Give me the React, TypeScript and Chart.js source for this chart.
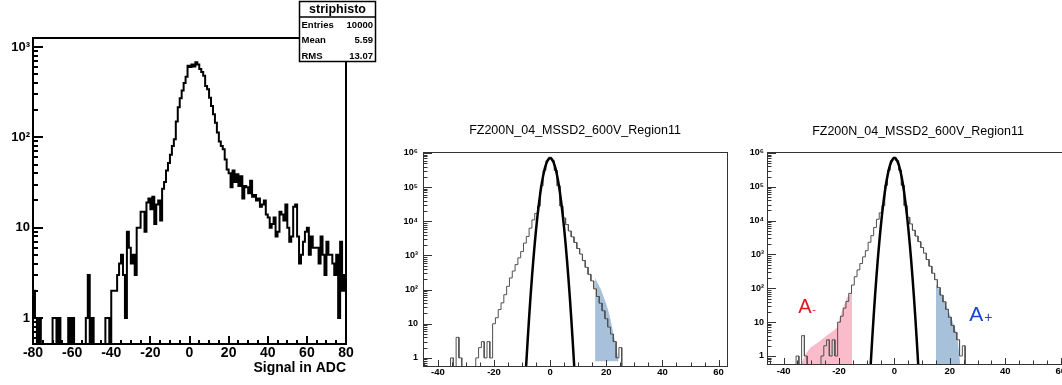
import React, { useEffect, useRef } from 'react';
import { Chart, registerables } from 'chart.js';

Chart.register(...registerables);

const FONT = "'Liberation Sans', Arial, Helvetica, sans-serif";

// ---------------- Panel 1 : striphisto ----------------
const p1BinLow = -80;
const p1BinWidth = 1;
const p1Counts = [
  2, 1, 0, 1, 0, 0, 0, 0, 0, 0, // -80..-71
  1, 1, 0, 1, 0, 0, 0, 0, 1, 0, // -70..-61
  1, 0, 0, 0, 0, 0, 0, 1, 3, 0, // -60..-51
  1, 0, 0, 0, 0, 0, 0, 1, 1, 0, // -50..-41
  2, 2, 2, 3, 4, 5, 3, 1, 9, 6, // -40..-31
  4, 5, 3, 10, 10, 15, 15, 9, 19, 21, // -30..-21
  16, 22, 11, 18, 20, 12, 27, 32, 43, 52, // -20..-11
  64, 80, 95, 150, 215, 270, 330, 400, 470, 620, // -10..-1
  600, 640, 610, 680, 640, 570, 530, 480, 370, 340, // 0..9
  275, 222, 180, 145, 113, 90, 80, 74, 57, 44, // 10..19
  40, 28, 43, 32, 39, 29, 37, 21, 29, 28, // 20..29
  24, 33, 22, 23, 20, 21, 17, 18, 20, 14, // 30..39
  13, 10, 11, 13, 8, 9, 15, 14, 12, 18, // 40..49
  10, 7, 8, 17, 18, 8, 4, 5, 7, 9, // 50..59
  10, 5, 8, 6, 6, 6, 4, 8, 5, 3, // 60..69
  7, 5, 5, 4, 3, 5, 1, 7, 2, 3, // 70..79
];
const p1XTicks = [-80, -60, -40, -20, 0, 20, 40, 60, 80];
const p1YTicks = [1, 10, 100, 1000];
const p1YLabels = ['1', '10', '10²', '10³'];
const p1XTitle = 'Signal in ADC';
const p1StatTitle = 'striphisto';
const p1StatNames = ['Entries', 'Mean', 'RMS'];
const p1StatValues = ['10000', '5.59', '13.07'];

// ---------------- Panels 2 & 3 : FZ200N ----------------
const fzTitle = 'FZ200N_04_MSSD2_600V_Region11';
const fzFirstBinCenter = -36;
const fzBinWidth = 1;
const fzCounts = [
  0, 1, 0, 4, 1, 0, 0, 0, 0, 0, // -36..-27
  1, 2, 3, 1, 3, 1, 10, 15, 26, 41, // -26..-17
  71, 125, 220, 350, 540, 850, 1300, 2300, 3600, 6300, // -16..-7
  11000, 17000, 28000, 110000, 310000, 590000, 750000, 590000, 310000, 110000, // -6..3
  28000, 12500, 8000, 5200, 3500, 2400, 1600, 1100, 710, 450, // 4..13
  280, 180, 105, 63, 40, 24, 14, 8, 5, 3, // 14..23
  1, 2, 0, // 24..26
];
const gaussX = [-9, -8.5, -8, -7.5, -7, -6.5, -6, -5.5, -5, -4.5, -4, -3.5, -3, -2.5, -2, -1.5, -1, -0.5, 0,
  0.5, 1, 1.5, 2, 2.5, 3, 3.5, 4, 4.5, 5, 5.5, 6, 6.5, 7, 7.5, 8, 8.5, 9];
const gaussY = [0.13, 0.71, 3.45, 15.2, 61, 220, 728, 2180, 5960, 14800, 33000, 68000, 127000, 214000, 330000, 460000, 585000, 675000, 708000,
  675000, 585000, 460000, 330000, 214000, 127000, 68000, 33000, 14800, 5960, 2180, 728, 220, 61, 15.2, 3.45, 0.71, 0.13];
const p2BlueX = [16, 17, 18, 19, 20, 21, 22, 23, 24, 24.4];
const p2BlueY = [219, 150, 105, 63, 38, 20, 8.5, 3.4, 1.3, 0.8];
const p3BlueX = [15, 16, 17, 18, 19, 20, 21, 22, 23, 23.5, 23.8];
const p3BlueY = [130, 95, 62, 42, 27, 17, 10.5, 6, 2.3, 0.9, 0.5];
const p3PinkX = [-33.7, -32.2, -30.4, -28, -26, -24, -22, -20.8, -19, -17.2, -15.3];
const p3PinkY = [0.55, 1.1, 1.75, 2.4, 3.2, 4.3, 5.6, 6.8, 21, 52, 81];
const fzXTicks = [-40, -20, 0, 20, 40, 60];
const fzYTicks = [1, 10, 100, 1000, 10000, 100000, 1000000];
const fzYLabels = ['1', '10', '10²', '10³', '10⁴', '10⁵', '10⁶'];
const aMinusText = ['A', '-'];
const aPlusText = ['A', '+'];

const FLOOR = 1e-3;

function stepPoints(low: number, width: number, counts: number[]) {
  const pts: { x: number; y: number }[] = [{ x: low, y: FLOOR }];
  counts.forEach((c, i) => {
    const y = c > 0 ? c : FLOOR;
    pts.push({ x: low + i * width, y }, { x: low + (i + 1) * width, y });
  });
  pts.push({ x: low + counts.length * width, y: FLOOR });
  return pts;
}
const zip = (xs: number[], ys: number[]) => xs.map((x, i) => ({ x, y: ys[i] }));

type AxisStyle = {
  xMinorStep: number; xMajor: number[]; xMajorLen: number; xMinorLen: number;
  yMajorLen: number; yMinorLen: number; lineWidth: number; color: string; frameWidth: number;
};

function rootPlugin(id: string, st: AxisStyle, extra?: (chart: any) => void) {
  return {
    id,
    afterDatasetsDraw(chart: any) {
      const { ctx, chartArea: a } = chart;
      const x = chart.scales.x;
      const y = chart.scales.y;
      const off = st.lineWidth % 2 === 1 ? 0.5 : 0;
      ctx.save();
      ctx.strokeStyle = st.color;
      ctx.lineWidth = st.lineWidth;
      ctx.beginPath();
      const start = Math.ceil(x.min / st.xMinorStep) * st.xMinorStep;
      for (let v = start; v <= x.max + 1e-9; v += st.xMinorStep) {
        const px = Math.round(x.getPixelForValue(v)) + off;
        const len = st.xMajor.includes(v) ? st.xMajorLen : st.xMinorLen;
        ctx.moveTo(px, a.bottom);
        ctx.lineTo(px, a.bottom - len);
      }
      const d0 = Math.floor(Math.log10(y.min));
      const d1 = Math.ceil(Math.log10(y.max));
      for (let d = d0; d <= d1; d++) {
        for (let m = 1; m <= 9; m++) {
          const v = m * Math.pow(10, d);
          if (v < y.min || v > y.max) continue;
          const py = Math.round(y.getPixelForValue(v)) + off;
          ctx.moveTo(a.left, py);
          ctx.lineTo(a.left + (m === 1 ? st.yMajorLen : st.yMinorLen), py);
        }
      }
      ctx.stroke();
      ctx.lineWidth = st.frameWidth;
      const fo = st.frameWidth % 2 === 1 ? 0.5 : 0;
      ctx.strokeRect(a.left + fo, a.top + fo, a.right - a.left, a.bottom - a.top);
      ctx.restore();
      if (extra) extra(chart);
    },
  };
}

function xScale(min: number, max: number, ticks: number[], height: number, size: number, padding: number, title?: any) {
  return {
    type: 'linear',
    min,
    max,
    grid: { display: false, drawTicks: false },
    border: { display: false },
    afterBuildTicks: (s: any) => { s.ticks = ticks.map((v) => ({ value: v })); },
    afterFit: (s: any) => { s.height = height; },
    ticks: {
      autoSkip: false, maxRotation: 0, minRotation: 0, padding, color: '#000',
      font: { family: FONT, size, weight: 'bold' },
      callback: (v: number) => String(v),
    },
    title: title || { display: false },
  };
}

function yScale(min: number, max: number, ticks: number[], labels: string[], width: number, size: number, padding: number) {
  return {
    type: 'logarithmic',
    min,
    max,
    grid: { display: false, drawTicks: false },
    border: { display: false },
    afterBuildTicks: (s: any) => { s.ticks = ticks.map((v) => ({ value: v })); },
    afterFit: (s: any) => { s.width = width; },
    ticks: {
      autoSkip: false, padding, color: '#000',
      font: { family: FONT, size, weight: 'bold' },
      callback: (_v: number, i: number) => labels[i],
    },
  };
}

const baseOptions = (padding: any, title?: any) => ({
  animation: false,
  responsive: false,
  events: [],
  layout: { padding },
  plugins: {
    legend: { display: false },
    tooltip: { enabled: false },
    title: title || { display: false },
  },
});

export default function App() {
  const r1 = useRef<HTMLCanvasElement>(null);
  const r2 = useRef<HTMLCanvasElement>(null);
  const r3 = useRef<HTMLCanvasElement>(null);

  useEffect(() => {
    const charts: Chart[] = [];

    // ---- Panel 1
    const statBox = (chart: any) => {
      const ctx = chart.ctx;
      ctx.save();
      ctx.fillStyle = '#fff';
      ctx.fillRect(299, 1, 77, 61);
      ctx.strokeStyle = '#000';
      ctx.lineWidth = 1.5;
      ctx.strokeRect(299.5, 1.5, 76, 60);
      ctx.beginPath();
      ctx.moveTo(299.5, 17);
      ctx.lineTo(375.5, 17);
      ctx.stroke();
      ctx.fillStyle = '#000';
      ctx.textBaseline = 'middle';
      ctx.textAlign = 'center';
      ctx.font = `bold 12.5px ${FONT}`;
      ctx.fillText(p1StatTitle, 337.5, 9.5);
      ctx.font = `bold 9.5px ${FONT}`;
      const rowsY = [25, 40.5, 56];
      p1StatNames.forEach((n, i) => {
        ctx.textAlign = 'left';
        ctx.fillText(n, 301.5, rowsY[i]);
        ctx.textAlign = 'right';
        ctx.fillText(p1StatValues[i], 373, rowsY[i]);
      });
      ctx.restore();
    };

    charts.push(new Chart(r1.current as HTMLCanvasElement, {
      type: 'line',
      data: {
        datasets: [{
          data: stepPoints(p1BinLow, p1BinWidth, p1Counts),
          borderColor: '#000', borderWidth: 2, pointRadius: 0, tension: 0, fill: false, clip: 0,
        }],
      },
      options: {
        ...baseOptions({ left: 0, top: 38, right: 32, bottom: 0 }),
        scales: {
          x: xScale(-80, 80, p1XTicks, 41, 14, 1, {
            display: true, text: p1XTitle, align: 'end', color: '#000',
            font: { family: FONT, size: 14, weight: 'bold' }, padding: { top: 0, bottom: 8 },
          }),
          y: yScale(0.5155, 1258, p1YTicks, p1YLabels, 33, 13, 3),
        },
      } as any,
      plugins: [rootPlugin('root1', {
        xMinorStep: 5, xMajor: p1XTicks, xMajorLen: 8, xMinorLen: 4,
        yMajorLen: 10, yMinorLen: 5, lineWidth: 2, color: '#000', frameWidth: 2,
      }, statBox)],
    } as any));

    // ---- Panels 2 & 3
    const fzSteps = stepPoints(fzFirstBinCenter - fzBinWidth / 2, fzBinWidth, fzCounts);
    const histDs = {
      data: fzSteps, borderColor: '#505050', borderWidth: 1, pointRadius: 0, tension: 0,
      fill: false, clip: 0, order: 1,
    };
    const gaussDs = {
      data: zip(gaussX, gaussY), borderColor: '#000', borderWidth: 2.5, pointRadius: 0,
      cubicInterpolationMode: 'monotone', fill: false, clip: 0, order: 0,
    };
    const fzStyle: AxisStyle = {
      xMinorStep: 5, xMajor: fzXTicks, xMajorLen: 6, xMinorLen: 3.5,
      yMajorLen: 9, yMinorLen: 4.5, lineWidth: 1, color: '#333', frameWidth: 1,
    };
    const BLUE = 'rgb(168,193,219)';
    const PINK = 'rgb(250,188,203)';

    charts.push(new Chart(r2.current as HTMLCanvasElement, {
      type: 'line',
      data: {
        datasets: [
          gaussDs,
          histDs,
          {
            data: zip(p2BlueX, p2BlueY), borderWidth: 0, borderColor: 'rgba(0,0,0,0)',
            backgroundColor: BLUE, pointRadius: 0, tension: 0, fill: { value: 0.8 }, clip: 0, order: 2,
          },
        ],
      },
      options: {
        ...baseOptions({ left: 0, top: 0, right: 8, bottom: 0 }, {
          display: true, text: fzTitle, fullSize: false, color: '#000',
          font: { family: FONT, size: 12.5, weight: 'normal' }, padding: { top: 13, bottom: 14 },
        }),
        scales: {
          x: xScale(-45.3, 63, fzXTicks, 19, 9.5, 1),
          y: yScale(0.58, 1.07e6, fzYTicks, fzYLabels, 43, 9, 5),
        },
      } as any,
      plugins: [rootPlugin('root2', fzStyle)],
    } as any));

    const aLabels = (chart: any) => {
      const { ctx } = chart;
      const x = chart.scales.x;
      const y = chart.scales.y;
      ctx.save();
      ctx.textAlign = 'left';
      ctx.textBaseline = 'alphabetic';
      const ax = x.getPixelForValue(-34.7);
      const ay = y.getPixelForValue(19);
      ctx.fillStyle = '#e4161e';
      ctx.font = `20px ${FONT}`;
      ctx.fillText(aMinusText[0], ax, ay);
      ctx.font = `11px ${FONT}`;
      ctx.fillText(aMinusText[1], ax + 14, ay);
      const bx = x.getPixelForValue(27);
      const by = y.getPixelForValue(11);
      ctx.fillStyle = '#1b46d1';
      ctx.font = `21px ${FONT}`;
      ctx.fillText(aPlusText[0], bx, by);
      ctx.font = `14px ${FONT}`;
      ctx.fillText(aPlusText[1], bx + 15, by + 1.5);
      ctx.restore();
    };

    charts.push(new Chart(r3.current as HTMLCanvasElement, {
      type: 'line',
      data: {
        datasets: [
          gaussDs,
          { ...histDs, data: fzSteps },
          {
            data: zip(p3BlueX, p3BlueY), borderWidth: 0, borderColor: 'rgba(0,0,0,0)',
            backgroundColor: BLUE, pointRadius: 0, tension: 0, fill: 'start', clip: 0, order: 2,
          },
          {
            data: zip(p3PinkX, p3PinkY), borderWidth: 0, borderColor: 'rgba(0,0,0,0)',
            backgroundColor: PINK, pointRadius: 0, tension: 0, fill: 'start', clip: 0, order: 2,
          },
        ],
      },
      options: {
        ...baseOptions({ left: 0, top: 0, right: 8, bottom: 0 }, {
          display: true, text: fzTitle, fullSize: false, color: '#000',
          font: { family: FONT, size: 12.5, weight: 'normal' }, padding: { top: 14, bottom: 13 },
        }),
        scales: {
          x: xScale(-46, 63, fzXTicks, 21, 9.5, 2),
          y: yScale(0.58, 1.07e6, fzYTicks, fzYLabels, 37, 9, 3),
        },
      } as any,
      plugins: [rootPlugin('root3', fzStyle, aLabels)],
    } as any));

    return () => { charts.forEach((c) => c.destroy()); };
  }, []);

  return (
    <div style={{ position: 'fixed', left: 0, top: 0, width: 1062, height: 385, overflow: 'hidden', background: '#fff' }}>
      <canvas ref={r1} width={378} height={385} style={{ position: 'absolute', left: 0, top: 0 }} />
      <canvas ref={r2} width={355} height={275} style={{ position: 'absolute', left: 380, top: 110 }} />
      <canvas ref={r3} width={347} height={275} style={{ position: 'absolute', left: 730, top: 110 }} />
    </div>
  );
}
